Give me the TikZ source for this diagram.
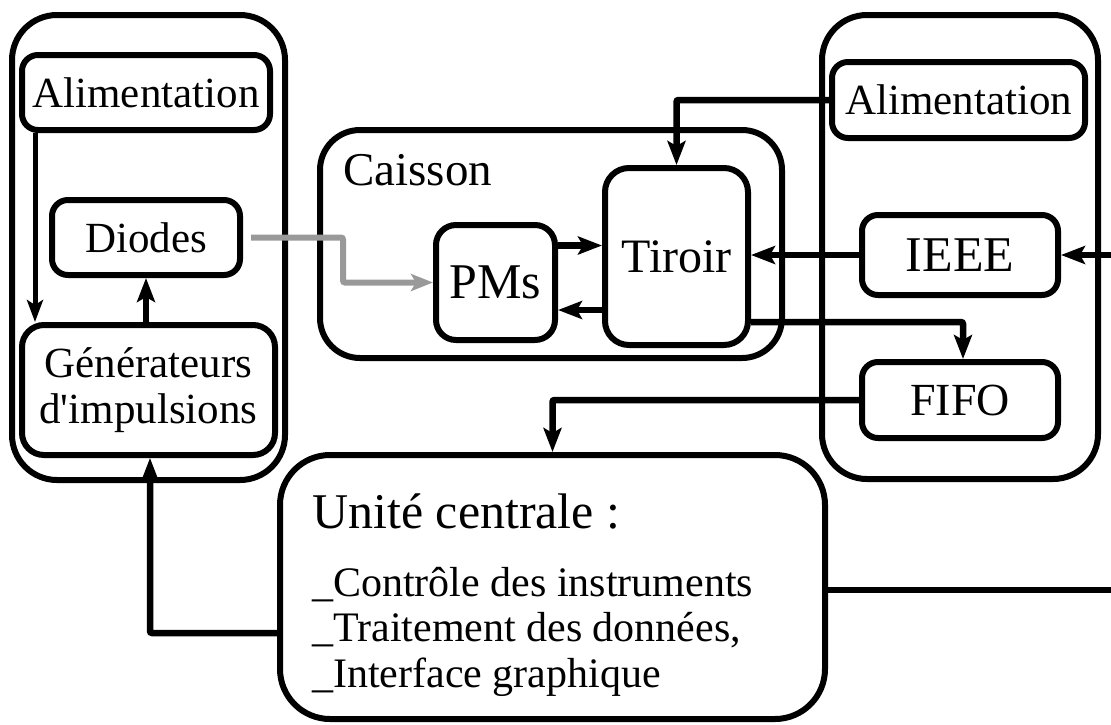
\documentclass[tikz,border=0pt]{standalone}
\usepackage{fontspec}
\setmainfont{Liberation Serif}
\usetikzlibrary{arrows.meta}
\begin{document}
\begin{tikzpicture}[x=1pt,y=-1pt,
  box/.style={draw,line width=6pt,rounded corners=16pt,inner sep=0pt,align=center,font=\fontsize{43}{46}\selectfont},
  panel/.style={draw,line width=6pt,rounded corners=45pt,inner sep=0pt},
  conn/.style={line width=6.5pt,-{Stealth[length=24pt,width=18pt,inset=5pt]}},
  thinconn/.style={line width=5pt,-{Stealth[length=22pt,width=16pt,inset=5pt]}},
  grayconn/.style={line width=6pt,color=black!40,-{Stealth[length=22pt,width=17pt,inset=5pt]}},
  plain/.style={line width=6.5pt}]
\useasboundingbox (0,0) rectangle (1111,724);
% panels
\node[panel,minimum width=273pt,minimum height=465pt] (panelL) at (148.5,247.5) {};
\node[panel,minimum width=276pt,minimum height=464pt] (panelR) at (960,247) {};
\node[panel,rounded corners=40pt,minimum width=462pt,minimum height=228pt] (caisson) at (551,244) {};
\node[anchor=west,inner sep=0pt,font=\fontsize{47}{50}\selectfont] (caissonlbl) at (343,170) {Caisson};
% left
\node[box,minimum width=248pt,minimum height=75pt] (alimL) at (146,92.5) {Alimentation};
\node[box,minimum width=188pt,minimum height=75pt] (diodes) at (146,237.5) {Diodes};
\node[box,rounded corners=22pt,minimum width=253pt,minimum height=130pt] (gen) at (148.5,390) {Générateurs\\d\textquotesingle impulsions};
% caisson
\node[box,rounded corners=20pt,minimum width=119pt,minimum height=115pt,font=\fontsize{50}{52}\selectfont] (pms) at (495.5,282.5) {PMs};
\node[box,rounded corners=24pt,minimum width=143pt,minimum height=177pt,font=\fontsize{48}{50}\selectfont] (tiroir) at (676.5,256.5) {Tiroir};
% right
\node[box,minimum width=253pt,minimum height=76pt] (alimR) at (958.5,100) {Alimentation};
\node[box,minimum width=196pt,minimum height=80pt,font=\fontsize{50}{52}\selectfont] (ieee) at (960,255) {IEEE};
\node[box,minimum width=196pt,minimum height=76pt,font=\fontsize{46}{48}\selectfont] (fifo) at (960,400) {FIFO};
% central unit
\node[draw,line width=6pt,rounded corners=50pt,minimum width=545pt,minimum height=264pt,inner sep=0pt] (unite) at (552.5,587) {};
\node[anchor=north west,inner sep=0pt,align=left,font=\fontsize{42}{45.5}\selectfont] (unitetxt) at (312,494) {%
  {\fontsize{50}{56}\selectfont Unité centrale :}\\[22pt]
  \_Contrôle des instruments\\\_Traitement des données,\\\_Interface graphique};
% coordinates
\coordinate (p1) at ([yshift=37pt]pms.east);
\coordinate (p2) at ([yshift=-53.5pt]tiroir.west);
\coordinate (p3) at ([yshift=-65.5pt]tiroir.east);
\coordinate (p4) at ([yshift=-46pt]unite.west);
\coordinate (inR) at (1111,255);
\coordinate (outR) at (1111,590);
\coordinate (a1) at ([xshift=16pt]alimL.south west);
% connectors
\draw[thinconn] (a1) -- (a1 |- gen.north);
\draw[conn] (diodes.south |- gen.north) -- (diodes.south);
\draw[grayconn,rounded corners=2pt] ([xshift=8pt]diodes.east) -- ++(92,0) |- (pms.west);
\draw[conn] (p1) -- (p1 -| tiroir.west);
\draw[conn] (p2) -- (p2 -| pms.east);
\draw[conn,rounded corners=2pt] (alimR.west) -| (tiroir.north);
\draw[conn] (inR) -- (ieee.east);
\draw[conn] (ieee.west) -- (ieee.west -| tiroir.east);
\draw[conn,rounded corners=2pt] (p3) -| ([xshift=3pt]fifo.north);
\draw[conn,rounded corners=2pt] (fifo.west) -| (unite.north);
\draw[plain] (unite.east |- outR) -- (outR);
\draw[conn,rounded corners=2pt] (p4) -| ([xshift=1.5pt]gen.south);
\end{tikzpicture}
\end{document}
